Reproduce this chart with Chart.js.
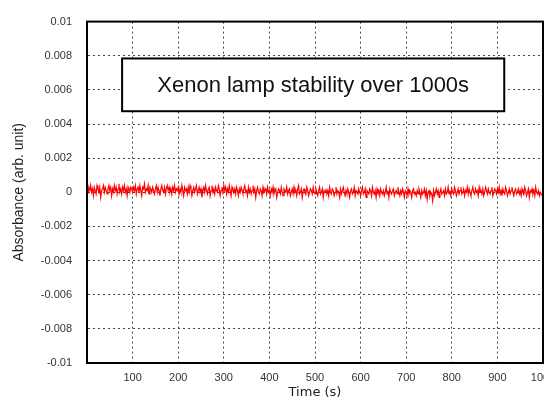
<!DOCTYPE html>
<html>
<head>
<meta charset="utf-8">
<script src="https://cdn.jsdelivr.net/npm/chart.js@4/dist/chart.umd.min.js"></script>
<style>
  html, body { margin: 0; padding: 0; background: #fff; }
  #wrap { width: 544px; height: 403px; }
</style>
</head>
<body>
<div id="wrap"><canvas id="lampChart" width="544" height="403"></canvas></div>
<script>
// Sample spacing of the trace (s)
const timeStep = 2;

// Absorbance, in units of 1e-4 (one value per 2 s, 0..998 s)
const absorbanceE4 = [
  2, -1, 3, 1, 4, 0, 2, -2, 3, 1, -1, 4, 2, 0, 3, -3, 1, 2, 4, 0, 3, 1, -1, 2, 4,
  1, 3, -2, 2, 0, 4, 1, 3, -1, 2, 5, 0, 2, -1, 3, 1, 4, 0, 2, -2, 3, 1, 0, 3, 2,
  0, 3, 1, 4, -1, 2, 3, 0, 4, 1, -2, 3, 2, 5, 0, 2, 1, 4, -1, 3, 2, 0, 3, 1, -1,
  2, 4, 0, 3, 1, -2, 2, 4, 1, 0, 3, -1, 2, 4, 1, 3, 0, 2, -1, 3, 1, 4, 0, 2, 1,
  3, -1, 2, 0, 4, 1, -2, 3, 1, 2, -1, 3, 0, 4, 2, -2, 1, 3, 0, 2, 4, -1, 1, 3, 0,
  2, -3, 1, 3, 0, 4, 1, -1, 2, 3, -2, 1, 4, 0, 2, -1, 3, 1, 0, 4, 2, -2, 1, 3, 0,
  4, 1, 3, -1, 2, 0, 4, 1, -2, 3, 1, 0, 2, -1, 3, 1, -2, 2, 0, 3, 1, -1, 2, 4, 0,
  1, -2, 3, 0, 2, -1, 1, 4, 0, 2, -3, 1, 3, 0, -1, 2, 1, -2, 3, 0, 1, 2, -1, 3, 0,
  1, -2, 2, 0, 3, -1, 1, 2, -3, 0, 2, 1, -1, 3, 0, -2, 2, 1, 0, 3, -1, 1, 2, -2, 0,
  2, -1, 3, 0, 1, -2, 2, 4, -1, 0, 2, -3, 1, 2, 0, -1, 3, 1, -2, 0, 2, 1, -1, 3, 0,
  -1, 2, 0, -2, 1, 3, -1, 0, 2, -3, 1, 0, 2, -1, 1, -2, 3, 0, -1, 2, 1, -2, 0, 3, -1,
  1, 0, -3, 2, -1, 1, 3, 0, -2, 1, -1, 2, 0, -3, 1, 2, -1, 0, 3, -2, 1, 0, -1, 2, 0,
  -2, 1, 3, -1, 0, 2, -3, 1, 0, -1, 2, 1, -2, 3, 0, -1, 1, -3, 2, 0, 1, -2, 2, 0, -1,
  1, -2, 0, 3, -1, 1, -3, 2, 0, -1, 1, 2, -2, 0, 1, -1, 3, 0, -2, 1, -1, 2, 0, -3, 1,
  0, -2, 2, -1, 1, 0, -3, 1, 2, -1, 0, -2, 1, -1, 2, 0, -3, 1, -1, 0, 2, -2, 1, -4, 0,
  1, -2, 0, -1, -5, 1, -2, 0, 2, -1, 1, -3, 0, 2, -1, 0, 1, -2, 2, -1, 0, 3, -1, 1, -2,
  2, 0, -1, 3, 1, -2, 0, 2, -1, 1, 3, -1, 0, 2, -2, 1, 0, 3, -1, 2, 0, -2, 1, 3, 0,
  -1, 2, 0, 1, -2, 3, 0, 1, -1, 2, -2, 0, 3, 1, -1, 2, 0, -1, 1, 3, -2, 0, 2, 1, -1,
  2, 0, 3, -1, 1, -2, 2, 0, -1, 3, 1, -2, 0, 2, -1, 1, 3, 0, -2, 1, 2, -1, 0, 2, -1,
  1, -2, 2, 0, -1, 3, 1, -2, 0, 2, -3, 1, 0, 2, -1, 1, -2, 3, 0, -1, 1, -2, 0, -1, -2
];

const xTicks = [0, 100, 200, 300, 400, 500, 600, 700, 800, 900, 1000];
const yTicks = [0.01, 0.008, 0.006, 0.004, 0.002, 0, -0.002, -0.004, -0.006, -0.008, -0.01];

const boxLabel = "Xenon lamp stability over 1000s";

const points = absorbanceE4.map((v, i) => ({ x: i * timeStep, y: v / 1e4 }));

// Frame around the plot area plus the boxed caption
const framePlugin = {
    id: "frame",
    afterDraw(chart) {
        const { ctx, chartArea: a, scales } = chart;
        ctx.save();
        ctx.strokeStyle = "#000";
        ctx.lineWidth = 2;
        ctx.strokeRect(a.left, a.top, a.right - a.left, a.bottom - a.top);

        // caption box placed in data coordinates
        const x0 = scales.x.getPixelForValue(77);
        const x1 = scales.x.getPixelForValue(915);
        const y0 = scales.y.getPixelForValue(0.00784);
        const y1 = scales.y.getPixelForValue(0.00475);
        ctx.fillStyle = "#fff";
        ctx.fillRect(x0, y0, x1 - x0, y1 - y0);
        ctx.strokeRect(x0, y0, x1 - x0, y1 - y0);
        ctx.fillStyle = "#111";
        ctx.font = "22px 'Liberation Sans', Arial, sans-serif";
        ctx.textAlign = "center";
        ctx.textBaseline = "middle";
        ctx.fillText(boxLabel, (x0 + x1) / 2, (y0 + y1) / 2 + 1);
        ctx.restore();
    }
};

const ctx = document.getElementById("lampChart").getContext("2d");
new Chart(ctx, {
    type: "line",
    data: {
        datasets: [{
            data: points,
            borderColor: "#ff0000",
            borderWidth: 1.2,
            pointRadius: 0,
            tension: 0,
            fill: false
        }]
    },
    options: {
        responsive: false,
        animation: false,
        layout: { padding: { top: 20, right: 1, left: 0, bottom: 0 } },
        plugins: {
            legend: { display: false },
            tooltip: { enabled: false }
        },
        scales: {
            x: {
                type: "linear",
                min: 0,
                max: 1000,
                afterBuildTicks: s => { s.ticks = xTicks.map(v => ({ value: v })); },
                afterFit: s => { s.height = 40; s.paddingLeft = 0; s.paddingRight = 0; },
                ticks: {
                    padding: 8,
                    maxRotation: 0,
                    autoSkip: false,
                    color: "#333",
                    font: { family: "'Liberation Sans', Arial, sans-serif", size: 11 },
                    callback: v => (v === 0 ? "" : String(v))
                },
                grid: { color: "#444", lineWidth: 1, drawTicks: false },
                border: { display: true, color: "#000", width: 2, dash: [2, 3] },
                title: {
                    display: true,
                    text: "Time (s)",
                    color: "#222",
                    font: { family: "'DejaVu Sans', Verdana, sans-serif", size: 13 },
                    padding: { top: 0, bottom: 3 }
                }
            },
            y: {
                min: -0.01,
                max: 0.01,
                afterBuildTicks: s => { s.ticks = yTicks.map(v => ({ value: v })); },
                afterFit: s => { s.width = 87; },
                ticks: {
                    padding: 15,
                    autoSkip: false,
                    color: "#333",
                    font: { family: "'Liberation Sans', Arial, sans-serif", size: 11 },
                    callback: v => String(Number(v.toFixed(3)))
                },
                grid: { color: "#444", lineWidth: 1, drawTicks: false },
                border: { display: true, color: "#000", width: 2, dash: [2, 3] },
                title: {
                    display: true,
                    text: "Absorbance (arb. unit)",
                    color: "#222",
                    font: { family: "'Liberation Sans', Arial, sans-serif", size: 14 },
                    padding: { top: 11, bottom: 0 }
                }
            }
        }
    },
    plugins: [framePlugin]
});
</script>
</body>
</html>
